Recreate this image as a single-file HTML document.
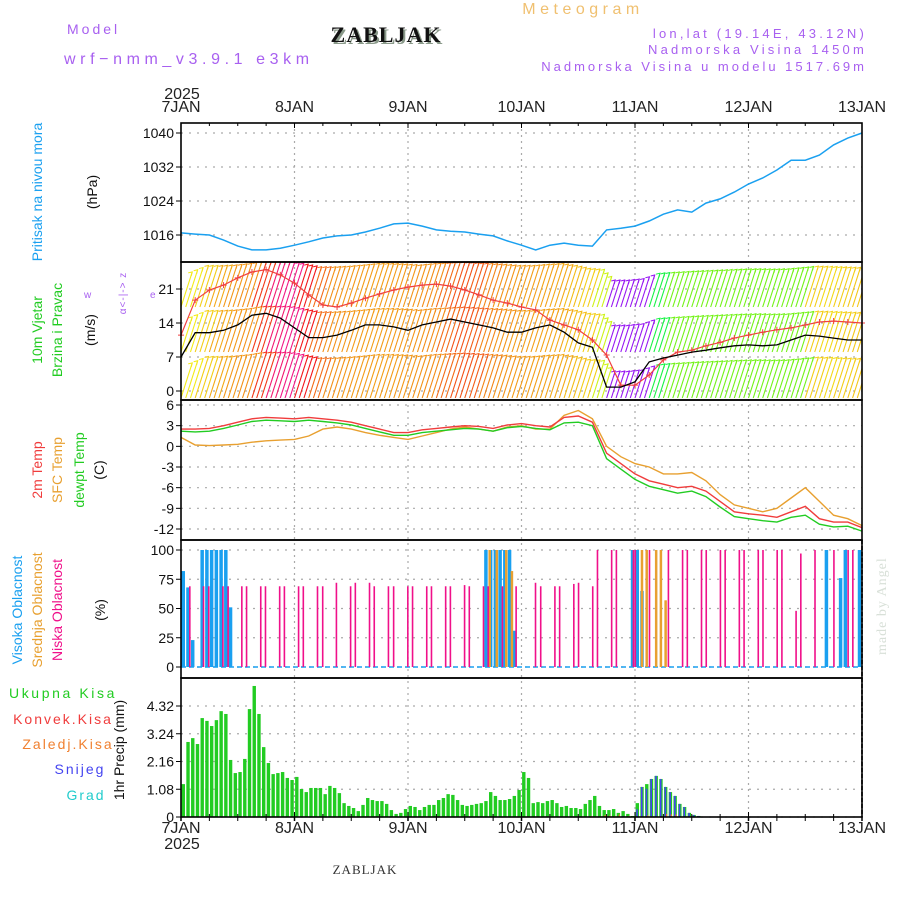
<!DOCTYPE html>
<html><head><meta charset="utf-8"><style>
html,body{margin:0;padding:0;background:#fff;}
svg{display:block;font-family:"Liberation Sans",sans-serif;}
</style></head><body>
<svg id="c" width="900" height="900" viewBox="0 0 900 900">
<g>
<text x="67" y="34" fill="#a860f0" font-size="14" letter-spacing="3">Model</text>
<text x="64" y="64" fill="#a860f0" font-size="16" letter-spacing="4.6">wrf−nmm_v3.9.1 e3km</text>
<text x="388" y="44" fill="#8a9a8a" font-size="22" font-weight="bold" font-family="Liberation Serif,serif" text-anchor="middle" letter-spacing="1">ZABLJAK</text>
<text x="386" y="42" fill="#111" font-size="22" font-weight="bold" font-family="Liberation Serif,serif" text-anchor="middle" letter-spacing="1">ZABLJAK</text>
<text x="583" y="14" fill="#f0c070" font-size="16" text-anchor="middle" letter-spacing="4.5">Meteogram</text>
<text x="867" y="38" fill="#a860f0" font-size="13" text-anchor="end" letter-spacing="3.2">lon,lat (19.14E, 43.12N)</text>
<text x="867" y="54" fill="#a860f0" font-size="13" text-anchor="end" letter-spacing="3.2">Nadmorska Visina 1450m</text>
<text x="867" y="71" fill="#a860f0" font-size="13" text-anchor="end" letter-spacing="3">Nadmorska Visina u modelu 1517.69m</text>
<text x="182" y="99" fill="#222" font-size="16" text-anchor="middle">2025</text>
<text x="182" y="849" fill="#222" font-size="16" text-anchor="middle">2025</text>
<text x="365" y="874" fill="#333" font-size="13" font-family="Liberation Serif,serif" text-anchor="middle" letter-spacing="1">ZABLJAK</text>
<text transform="translate(886,655) rotate(-90)" fill="#d8e0d8" font-size="14" font-family="Liberation Serif,serif" letter-spacing="1">made by Angel</text>
</g>
<g>
<text transform="translate(42,192) rotate(-90)" fill="#1aa0f0" font-size="14" text-anchor="middle">Pritisak na nivou mora</text>
<text transform="translate(97,192) rotate(-90)" fill="#111" font-size="14" text-anchor="middle">(hPa)</text>
<text transform="translate(42,330) rotate(-90)" fill="#22cc22" font-size="14" text-anchor="middle">10m Vjetar</text>
<text transform="translate(62,330) rotate(-90)" fill="#22cc22" font-size="14" text-anchor="middle">Brzina i Pravac</text>
<text transform="translate(95,330) rotate(-90)" fill="#111" font-size="14" text-anchor="middle">(m/s)</text>
<text transform="translate(126,293) rotate(-90)" fill="#a860f0" font-size="10" text-anchor="middle" letter-spacing="1">&#945;&lt;-|-&gt; z</text>
<text x="84" y="298" fill="#a860f0" font-size="10">w</text>
<text x="150" y="298" fill="#a860f0" font-size="10">e</text>
<text transform="translate(42,470) rotate(-90)" fill="#f03c3c" font-size="14" text-anchor="middle">2m Temp</text>
<text transform="translate(62,470) rotate(-90)" fill="#e8a030" font-size="14" text-anchor="middle">SFC Temp</text>
<text transform="translate(84,470) rotate(-90)" fill="#22cc22" font-size="14" text-anchor="middle">dewpt Temp</text>
<text transform="translate(104,470) rotate(-90)" fill="#111" font-size="14" text-anchor="middle">(C)</text>
<text transform="translate(22,610) rotate(-90)" fill="#1aa0f0" font-size="14" text-anchor="middle">Visoka Oblacnost</text>
<text transform="translate(42,610) rotate(-90)" fill="#e8a030" font-size="14" text-anchor="middle">Srednja Oblacnost</text>
<text transform="translate(62,610) rotate(-90)" fill="#f0108a" font-size="14" text-anchor="middle">Niska Oblacnost</text>
<text transform="translate(105,610) rotate(-90)" fill="#111" font-size="14" text-anchor="middle">(%)</text>
<text x="63" y="698" fill="#22cc22" font-size="14" text-anchor="middle" letter-spacing="2.6">Ukupna Kisa</text>
<text x="63" y="724" fill="#f03c3c" font-size="14" text-anchor="middle" letter-spacing="2">Konvek.Kisa</text>
<text x="68" y="749" fill="#f08030" font-size="14" text-anchor="middle" letter-spacing="2">Zaledj.Kisa</text>
<text x="80" y="774" fill="#4444f0" font-size="14" text-anchor="middle" letter-spacing="2">Snijeg</text>
<text x="86" y="800" fill="#22cccc" font-size="14" text-anchor="middle" letter-spacing="2">Grad</text>
<text transform="translate(124,750) rotate(-90)" fill="#111" font-size="14" text-anchor="middle">1hr Precip (mm)</text>
</g>
</svg>
<script>
// ---- data ----
const dayLabels = ["7JAN","8JAN","9JAN","10JAN","11JAN","12JAN","13JAN"];
// 3-hourly series (49 points, 7JAN 00 .. 13JAN 00)
const pressure = [1016.5,1016.2,1016,1014.8,1013.4,1012.5,1012.5,1012.9,1013.6,1014.4,1015.3,1015.8,1016,1016.7,1017.6,1018.6,1018.8,1018.1,1017.2,1016.9,1016.7,1016.2,1015.8,1014.6,1013.6,1012.5,1013.6,1014.1,1013.6,1013.4,1017.2,1017.6,1018.1,1019.3,1020.9,1021.9,1021.4,1023.5,1024.5,1026.1,1028,1029.4,1031.3,1033.6,1033.6,1034.8,1037.2,1038.8,1040];
const windSpeed = [7,12,12,12.5,13.6,15.6,16,15,13,11,11,11.5,12.5,13.6,13.6,13.2,12.5,13.6,14.2,14.8,14.2,13.6,13,12.1,12.1,13,13.6,12.1,9.9,9,0.8,0.8,1.9,6,6.8,7.4,8,8.4,8.9,9.3,9.5,9.3,9.5,10.5,11.5,11.3,10.9,10.5,10.5];
const windGust = [11.5,18.7,20.8,21.8,23.3,24.5,25,23.9,22.2,19.8,17.7,17.3,18.1,19.1,20,20.8,21.4,21.8,22,21.6,20.8,19.8,18.7,18.1,17.3,16.7,14.6,13.6,12.6,10.5,7.4,1.2,1.2,3.3,6.4,8,8.4,9.3,10,10.9,11.5,12.1,12.6,13,13.6,14.2,14.4,14.2,14];
const windDir = [185,200,220,230,235,255,270,272,262,245,235,230,228,226,228,230,232,236,245,250,248,240,232,228,226,224,220,210,200,170,100,80,60,30,15,10,10,8,5,0,355,350,345,340,200,195,200,205,210];
const temp2m = [2.5,2.5,2.6,3,3.5,4,4.2,4.1,4,4.2,4,3.8,3.5,3,2.5,2,2,2.4,2.6,2.8,3,2.9,2.6,3.1,3.3,3,2.8,4.2,4.4,3.5,-1,-2.5,-4,-5,-5.5,-6,-5.8,-6.5,-8,-9.5,-9.8,-10,-10.3,-9.5,-8.7,-10.5,-11,-11,-11.8];
const tempSfc = [1.3,0.2,0.1,0.2,0.3,0.6,0.8,0.9,1,1.5,2.5,2.8,2.5,2,1.6,1.3,1,1.5,2,2.5,2.8,2.5,2.2,2.8,3,2.5,2.5,4.5,5.2,4,0,-1.5,-2.5,-3,-4,-4,-3.8,-5,-7,-8.5,-9,-9.5,-9,-7.5,-6,-8,-10,-10.5,-11.5];
const tempDew = [2.2,2.1,2.2,2.6,3.1,3.6,3.8,3.7,3.6,3.8,3.6,3.4,3.1,2.6,2.1,1.6,1.6,2,2.2,2.4,2.6,2.5,2.2,2.7,2.9,2.6,2.4,3.4,3.5,3,-1.8,-3.3,-4.8,-5.8,-6.3,-6.8,-6.5,-7.3,-8.8,-10.2,-10.5,-10.8,-11,-10.3,-10,-11.3,-11.7,-11.6,-12.3];
// hourly precipitation (mm), hours 0..
const precipTotal = [1.28,2.92,3.07,2.84,3.85,3.74,3.54,3.77,4.12,4.01,2.22,1.71,1.75,2.26,4.2,5.1,4.01,2.72,2.1,1.67,1.71,1.75,1.52,1.44,1.56,1.09,0.97,1.13,1.13,1.13,0.89,1.21,1.13,0.93,0.54,0.43,0.35,0.23,0.47,0.74,0.66,0.62,0.62,0.51,0.27,0.12,0.16,0.31,0.43,0.39,0.27,0.39,0.47,0.47,0.66,0.74,0.89,0.86,0.66,0.47,0.43,0.47,0.51,0.54,0.62,0.97,0.82,0.66,0.66,0.7,0.82,1.05,1.75,1.52,0.54,0.58,0.54,0.62,0.66,0.54,0.39,0.43,0.35,0.35,0.31,0.51,0.66,0.82,0.43,0.27,0.27,0.31,0.16,0.23,0.12,0.04,0.54,1.17,1.28,1.48,1.6,1.48,1.17,0.97,0.82,0.51,0.39,0.16,0.08,0.04];
const precipSnow = [0,0,0,0,0,0,0,0,0,0,0,0,0,0,0,0,0,0,0,0,0,0,0,0,0,0,0,0,0,0,0,0,0,0,0,0,0,0,0,0,0,0,0,0,0,0,0,0,0,0,0,0,0,0,0,0,0,0,0,0,0,0,0,0,0,0,0,0,0,0,0,0,0,0,0,0,0,0,0,0,0,0,0,0,0,0,0,0,0,0,0,0,0.02,0.04,0,0,0.3,1.17,1.1,1.48,1.6,1.48,1.17,0.97,0.82,0.51,0.39,0.16,0.08,0.04];
const precipFreezing = [0,0,0,0,0,0,0,0,0,0,0,0,0,0,0,0,0,0,0,0,0,0,0,0,0,0,0,0,0,0,0,0,0,0,0,0,0,0,0,0,0,0,0,0,0,0,0,0,0,0,0,0,0,0,0,0,0,0,0,0,0,0,0,0,0,0,0,0,0,0,0,0,0,0,0,0,0,0,0,0,0,0,0,0,0,0,0.04,0,0,0.08,0.06,0.04,0.1,0,0.04,0,0,0,0.06,0,0,0,0.12,0.1,0.1,0,0,0,0,0];
// cloud cover: hour, percent
const highHours = [0,1,2,4,5,6,7,8,9,10,64,65,66,67,68,69,70,95,96,97,136,139,140,143];
const highVals = [82,68,23,100,100,100,100,100,100,51,100,100,100,100,100,100,31,100,100,65,100,76,100,100];
const midHours = [64.8,66.3,68.3,69.5,97,98,100,101,102];
const midVals = [100,100,100,82,100,100,100,100,57];
const lowHours = [1.8,4.7,5.8,8.8,9.9,12.8,13.8,16.8,17.8,20.8,21.8,24.8,25.8,28.8,29.9,32.8,35.8,36.8,39.8,40.8,43.8,44.9,47.9,48.9,51.9,52.9,55.9,56.9,59.9,60.9,63.9,64.9,67.9,70.8,74.9,76,79,80,83,84,87,88,91,92,95.6,96,99,103,106,107,110,111,114,115,118,119,122,123,126,127,130,131,134,138,141,142];
const lowVals = [69,69,69,69,69,69,69,69,69,69,69,69,69,69,69,72,69,72,72,69,69,69,69,69,69,69,69,69,70,69,69,69,69,69,72,69,69,69,71,72,69,100,100,100,100,100,100,100,100,100,100,100,100,100,100,100,100,100,100,100,48,97,100,100,100,100];
const pTicks = [1016,1024,1032,1040];
const wTicks = [0,7,14,21];
const tTicks = [-12,-9,-6,-3,0,3,6];
const cTicks = [0,25,50,75,100];
const rTicks = [0,1.08,2.16,3.24,4.32];

// ---- scales ----
const X0=181, X1=862, HOURS=144;
const xh = h => X0 + h*(X1-X0)/HOURS;
const lin = (v0,y0,v1,y1) => v => y0 + (v-v0)*(y1-y0)/(v1-v0);
const yP = lin(1016,235,1040,133);
const yW = lin(0,391,21,289);
const yT = lin(-12,529,6,405);
const yC = lin(0,667,100,550);
const yR = lin(0,817,4.32,706);
const panels = [[123,262],[262,400],[400,540],[540,678],[678,817]];

const svg = document.getElementById('c');
const NS='http://www.w3.org/2000/svg';
function mk(tag, attrs, parent){
  const e=document.createElementNS(NS,tag);
  for(const k in attrs) e.setAttribute(k,attrs[k]);
  (parent||svg).appendChild(e); return e;
}
const gGrid = mk('g',{});



for(let d=1; d<6; d++){
  const l=mk('line',{x1:xh(d*24),x2:xh(d*24),y1:123,y2:817,stroke:'#aaa','stroke-width':1.2,'stroke-dasharray':'2,4'},gGrid);
  
  
}
function hgrid(ticks, sc, fmt, name){
  ticks.forEach(t=>{
    const y=sc(t);
    const l=mk('line',{x1:X0,x2:X1,y1:y,y2:y,stroke:'#aaa','stroke-width':1.2,'stroke-dasharray':'2,6'},gGrid);
    
    
    mk('line',{x1:X0-5,x2:X0,y1:y,y2:y,stroke:'#000'},gGrid);
    const tx=mk('text',{x:X0-7,y:y+5,'text-anchor':'end','font-size':14,fill:'#111'},gGrid);
    tx.textContent=fmt(t);
    
    
  });
}
hgrid(pTicks,yP,String,'pressure');
hgrid(wTicks,yW,String,'wind');
hgrid(tTicks,yT,String,'temp');
hgrid(cTicks,yC,String,'cloud');
hgrid(rTicks,yR,t=>t===0?'0':t.toFixed(2),'precip');

dayLabels.forEach((d,i)=>{
  [112,833].forEach((y,j)=>{
    const t=mk('text',{x:xh(i*24),y:y,'text-anchor':'middle','font-size':16,fill:'#222'});
    t.textContent=d;
    
    
  });
});

function pathOf(arr, sc){
  return arr.map((v,i)=>(i?'L':'M')+xh(i*3).toFixed(1)+' '+sc(v).toFixed(1)).join(' ');
}

const pl=mk('path',{d:pathOf(pressure,yP),fill:'none',stroke:'#1aa0f0','stroke-width':1.5});



// wind barbs
function dirColor(d){
  let h;
  if(d>=150 && d<=300){
    if(d<=180) h=90-(d-150);
    else if(d<=240) h=60-(d-180)*0.5;
    else if(d<=262) h=30-(d-240)*1.4;
    else h=360-(d-262)*3;
    h=(h+360)%360;
  } else if(d>300 || d<20){ h=95; }
  else if(d<60){ h=110+(d-20)*2.2; }
  else { h=275; }
  return 'hsl('+h.toFixed(0)+',90%,52%)';
}
const gWind=mk('g',{'clip-path':'url(#wclip)'});


const defs=mk('defs',{});
const cp=mk('clipPath',{id:'wclip'},defs);
mk('rect',{x:X0,y:262,width:X1-X0,height:138},cp);
for(let h=0; h<=HOURS; h++){
  const i=Math.min(48,Math.floor(h/3)), f=(h-i*3)/3;
  const s = i<48 ? windSpeed[i]*(1-f)+windSpeed[i+1]*f : windSpeed[48];
  const col=dirColor(windDir[i]);
  const len=Math.min(46,26+s*1.3);
  [398,352,307].forEach(b=>{
    const x=xh(h), x2=x+len*0.32, y2=b-len;
    const ln=mk('line',{x1:x,y1:b,x2:x2,y2:y2,stroke:col,'stroke-width':1.1},gWind);
    
    
    mk('path',{d:'M'+(x2-4)+' '+(y2+1)+' L'+x2+' '+y2+' L'+(x2-1)+' '+(y2+4),fill:'none',stroke:col,'stroke-width':1},gWind);
  });
}
const gl=mk('path',{d:pathOf(windGust,yW),fill:'none',stroke:'#f04040','stroke-width':1.2});


windGust.forEach((v,i)=>{
  const x=xh(i*3),y=yW(v);
  mk('path',{d:`M${x-3} ${y} L${x+3} ${y} M${x} ${y-3} L${x} ${y+3}`,stroke:'#f04040','stroke-width':1});
});
const sl=mk('path',{d:pathOf(windSpeed,yW),fill:'none',stroke:'#000','stroke-width':1.3});



[[tempSfc,'#e8a030','sfc-temp-line'],[temp2m,'#f03c3c','temp-2m-line'],[tempDew,'#22cc22','dewpoint-line']].forEach(([a,c,n])=>{
  const p=mk('path',{d:pathOf(a,yT),fill:'none',stroke:c,'stroke-width':1.4});
  
  
});

const zl=mk('line',{x1:X0,x2:X1,y1:yC(0),y2:yC(0),stroke:'#1aa0f0','stroke-width':1.5,'stroke-dasharray':'5,3'});


highHours.forEach((h,i)=>{
  const r=mk('rect',{x:xh(h)+0.5,y:yC(highVals[i]),width:3.5,height:yC(0)-yC(highVals[i]),fill:'#1aa0f0'});
  
  
});
midHours.forEach((h,i)=>{
  const r=mk('rect',{x:xh(h)+1,y:yC(midVals[i]),width:2.5,height:yC(0)-yC(midVals[i]),fill:'#e8a030'});
  
  
});
lowHours.forEach((h,i)=>{
  const r=mk('rect',{x:xh(h)-0.5,y:yC(lowVals[i]),width:1.6,height:yC(0)-yC(lowVals[i]),fill:'#f0108a'});
  
  
});

precipTotal.forEach((v,h)=>{
  const x=xh(h)+0.6;
  const r=mk('rect',{x:x,y:yR(v),width:3.4,height:yR(0)-yR(v),fill:'#22cc22'});
  
  
  const s=precipSnow[h];
  if(s>0){
    const b=mk('rect',{x:x+0.6,y:yR(s),width:1.6,height:yR(0)-yR(s),fill:'#4444f0'});
    
    
  }
  const f=precipFreezing[h];
  if(f>0){
    const b=mk('rect',{x:x+2,y:yR(f),width:1.2,height:yR(0)-yR(f),fill:'#f08030'});
    
    
  }
});

panels.forEach(([a,b])=>{
  const r=mk('rect',{x:X0,y:a,width:X1-X0,height:b-a,fill:'none',stroke:'#000','stroke-width':1.6});
  
  
});
for(let h=0; h<=HOURS; h+=6){
  const big=h%24===0;
  mk('line',{x1:xh(h),x2:xh(h),y1:123,y2:123+(big?5:3),stroke:'#000'});
  mk('line',{x1:xh(h),x2:xh(h),y1:817,y2:817-(big?5:3),stroke:'#000'});
  mk('line',{x1:xh(h),x2:xh(h),y1:817,y2:821,stroke:'#000','stroke-width':big?1.5:1});
}
const rightEdge=mk('line',{x1:X1,x2:X1,y1:540,y2:817,stroke:'#000','stroke-width':1.6,'stroke-dasharray':'4,2'});


</script>
</body></html>
